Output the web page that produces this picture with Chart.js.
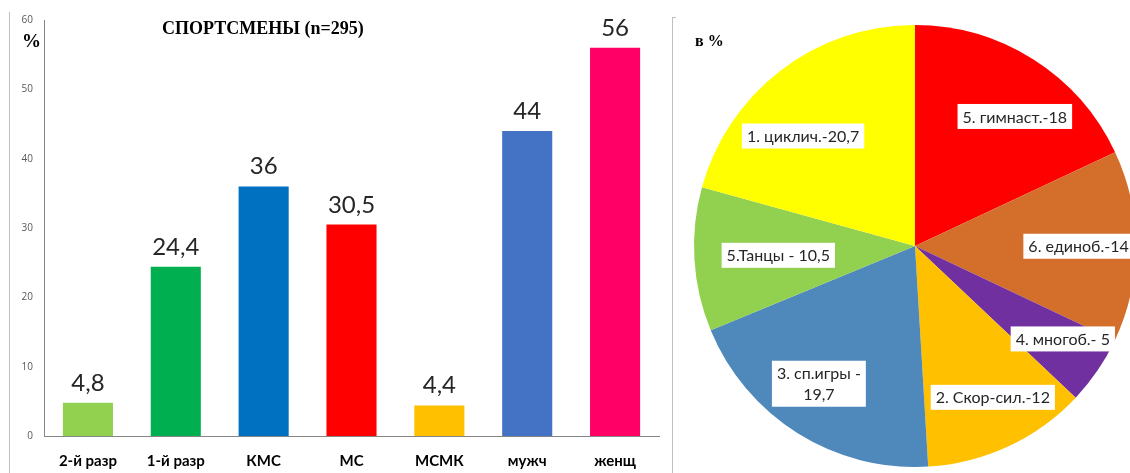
<!DOCTYPE html>
<html><head><meta charset="utf-8">
<script src="https://cdn.jsdelivr.net/npm/chart.js@4"></script>
<style>
html,body{margin:0;padding:0;background:#fff;width:1130px;height:473px;overflow:hidden;position:relative}
#bar{position:absolute;left:0;top:0}
#pie{position:absolute;left:672px;top:25px}
.frameL{position:absolute;left:9px;top:12px;width:0;height:461px;border-left:1px solid #bfbfbf}
.frameR{position:absolute;left:672px;top:17px;width:3px;height:456px;border-left:1px solid #bfbfbf;border-top:1px solid #bfbfbf}
.t{position:absolute;font-family:"Liberation Serif","DejaVu Serif",serif;font-weight:bold;color:#000;white-space:nowrap;line-height:1}
</style></head>
<body>
<div class="frameL"></div>
<canvas id="bar" width="670" height="473"></canvas>
<canvas id="pie" width="486" height="442"></canvas>
<div class="frameR"></div>
<div class="t" style="left:162px;top:19px;font-size:18px">СПОРТСМЕНЫ (n=295)</div>
<div class="t" style="left:22px;top:31px;font-size:19px">%</div>
<div class="t" style="left:695px;top:33px;font-size:16px">в %</div>
<script>
// ---- bar chart data ----
const categories = ["2-й разр", "1-й разр", "КМС", "МС", "МСМК", "мужч", "женщ"];
const barValues = [4.8, 24.4, 36, 30.5, 4.4, 44, 56];
const barColors = ["#92D050", "#00B050", "#0070C0", "#FF0000", "#FFC000", "#4472C4", "#FF0066"];
const yTickMax = 60;
const yTickStep = 10;

// ---- pie chart data ----
const pieLabels = ["5. гимнаст.-18", "6. единоб.-14", "4. многоб.- 5", "2. Скор-сил.-12", "3. сп.игры -\n19,7", "5.Танцы - 10,5", "1. циклич.-20,7"];
const pieValues = [18, 14, 5, 12, 19.7, 10.5, 20.7];
const pieColors = ["#FF0000", "#D36E2B", "#7030A0", "#FFC000", "#4F88BB", "#92D050", "#FFFF00"];

// label placement within each slice (fraction of slice angle, fraction of radius)
const labelAngleFrac = [0.58, 0.5, 0.38, 0.45, 0.54, 0.49, 0.39];
const labelRadiusFrac = [0.74, 0.74, 0.79, 0.77, 0.76, 0.62, 0.71];

const barLabelPlugin = {
  id: 'barLabels',
  afterDatasetsDraw(chart) {
    const ctx = chart.ctx;
    const meta = chart.getDatasetMeta(0);
    ctx.save();
    ctx.font = '24px Lato';
    ctx.fillStyle = '#262626';
    ctx.textAlign = 'center';
    ctx.textBaseline = 'alphabetic';
    meta.data.forEach((bar, i) => {
      ctx.fillText(String(barValues[i]).replace('.', ','), bar.x, bar.y - 12);
    });
    ctx.restore();
  }
};

new Chart(document.getElementById('bar'), {
  type: 'bar',
  data: {
    labels: categories,
    datasets: [{ data: barValues, backgroundColor: barColors, borderWidth: 0, categoryPercentage: 1, barPercentage: 0.57 }]
  },
  options: {
    responsive: false,
    animation: false,
    events: [],
    layout: { padding: { top: 20, right: 11, bottom: 0, left: 0 } },
    plugins: { legend: { display: false }, tooltip: { enabled: false } },
    scales: {
      x: {
        grid: { display: false, drawTicks: false },
        border: { color: '#868686', width: 1 },
        ticks: { font: { family: 'Lato', weight: 'bold', size: 15 }, color: '#000', padding: 16 },
        afterFit(s) { s.height = 37; }
      },
      y: {
        min: 0, max: yTickMax,
        grid: { display: false, drawTicks: false },
        border: { color: '#868686', width: 1 },
        ticks: { stepSize: yTickStep, font: { family: 'Open Sans', size: 10 }, color: '#595959', padding: 11 },
        afterFit(s) { s.width = 44; }
      }
    }
  },
  plugins: [barLabelPlugin]
});

const pieLabelPlugin = {
  id: 'pieLabels',
  afterDatasetsDraw(chart) {
    const ctx = chart.ctx;
    const meta = chart.getDatasetMeta(0);
    ctx.save();
    ctx.font = '16px Lato';
    const lh = 21;
    meta.data.forEach((arc, i) => {
      const a = arc.startAngle + (arc.endAngle - arc.startAngle) * labelAngleFrac[i];
      const r = arc.outerRadius * labelRadiusFrac[i];
      const cx = arc.x + Math.cos(a) * r;
      const cy = arc.y + Math.sin(a) * r;
      const lines = pieLabels[i].split('\n');
      const w = Math.max(...lines.map(l => ctx.measureText(l).width));
      const h = lines.length * lh + 4;
      ctx.fillStyle = '#fff';
      ctx.fillRect(cx - w / 2 - 5, cy - h / 2, w + 10, h);
      ctx.fillStyle = '#262626';
      ctx.textAlign = 'center';
      ctx.textBaseline = 'middle';
      lines.forEach((l, j) => ctx.fillText(l, cx, cy - (lines.length - 1) * lh / 2 + j * lh + 1));
    });
    ctx.restore();
  }
};

new Chart(document.getElementById('pie'), {
  type: 'pie',
  data: {
    labels: pieLabels,
    datasets: [{ data: pieValues, backgroundColor: pieColors, borderWidth: 0 }]
  },
  options: {
    responsive: false,
    animation: false,
    events: [],
    layout: { padding: 0 },
    plugins: { legend: { display: false }, tooltip: { enabled: false } }
  },
  plugins: [pieLabelPlugin]
});
</script>
</body></html>
